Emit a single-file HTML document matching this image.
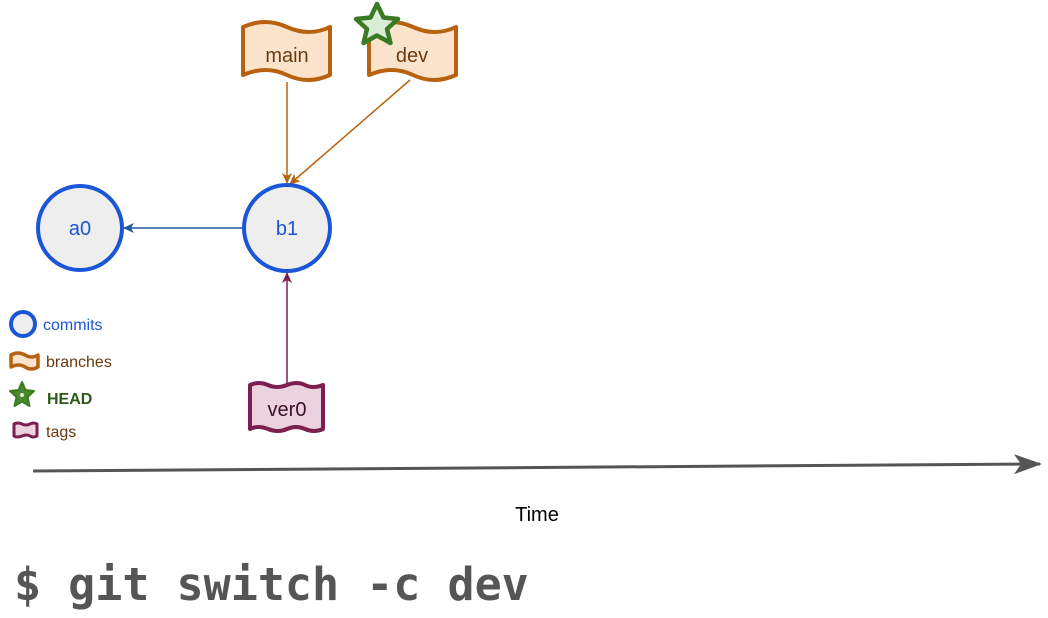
<!DOCTYPE html>
<html><head><meta charset="utf-8"><style>
html,body{margin:0;padding:0;background:#fff;}
svg{display:block;font-family:"Liberation Sans",Arial,sans-serif;}
</style></head><body>
<svg width="1048" height="618" viewBox="0 0 1048 618" xmlns="http://www.w3.org/2000/svg">
<defs>
<marker id="ao" markerWidth="12" markerHeight="12" refX="10" refY="6" orient="auto" markerUnits="userSpaceOnUse"><path d="M0,1 L11,6 L0,11 L3,6 Z" fill="#b8610f"/></marker>
<marker id="ab" markerWidth="12" markerHeight="12" refX="10" refY="6" orient="auto" markerUnits="userSpaceOnUse"><path d="M0,1 L11,6 L0,11 L3,6 Z" fill="#1f5a9e"/></marker>
<marker id="ap" markerWidth="12" markerHeight="12" refX="10" refY="6" orient="auto" markerUnits="userSpaceOnUse"><path d="M0,1 L11,6 L0,11 L3,6 Z" fill="#7a1f4f"/></marker>
<marker id="ag" markerWidth="30" markerHeight="24" refX="26" refY="12" orient="auto" markerUnits="userSpaceOnUse"><path d="M0,2 L28,12 L0,22 L7,12 Z" fill="#555"/></marker>
</defs>
<line x1="287" y1="82" x2="287" y2="183" stroke="#b8610f" stroke-width="1.5" marker-end="url(#ao)"/>
<line x1="410" y1="80" x2="290" y2="184" stroke="#b8610f" stroke-width="1.5" marker-end="url(#ao)"/>
<line x1="243" y1="228" x2="124" y2="228" stroke="#1f5a9e" stroke-width="1.5" marker-end="url(#ab)"/>
<line x1="287" y1="384" x2="287" y2="273" stroke="#7a1f4f" stroke-width="1.5" marker-end="url(#ap)"/>
<path d="M243,27 Q265,17 287,27 T330,27 V75 Q308,85 287,75 T243,75 Z" fill="#fce4cc" stroke="#b8610f" stroke-width="4" stroke-linejoin="round"/>
<text x="287" y="62" font-size="20" fill="#6b3a10" text-anchor="middle">main</text>
<path d="M369,27 Q391,17 413,27 T456,27 V75 Q434,85 413,75 T369,75 Z" fill="#fce4cc" stroke="#b8610f" stroke-width="4" stroke-linejoin="round"/>
<text x="412" y="62" font-size="20" fill="#6b3a10" text-anchor="middle">dev</text>
<path d="M377,4 L383.5,17.5 L398,19 L387,29 L390.5,43 L377,35.5 L363.5,43 L367,29 L356,19 L370.5,17.5 Z" fill="#d8ecd6" stroke="#3a7a22" stroke-width="4.5" stroke-linejoin="round"/>
<circle cx="80" cy="228" r="42" fill="#eeeeee" stroke="#1a56d6" stroke-width="4"/>
<text x="80" y="235" font-size="20" fill="#1a56d6" text-anchor="middle">a0</text>
<circle cx="287" cy="228" r="43" fill="#eeeeee" stroke="#1a56d6" stroke-width="4"/>
<text x="287" y="235" font-size="20" fill="#1a56d6" text-anchor="middle">b1</text>
<path d="M250,385 Q259,381 268,385 T287,385 T305,385 T323,385 V429 Q314,433 305,429 T287,429 T268,429 T250,429 Z" fill="#ecd1df" stroke="#7a1f4f" stroke-width="4" stroke-linejoin="round"/>
<text x="287" y="416" font-size="20" fill="#3a1028" text-anchor="middle">ver0</text>
<circle cx="23" cy="324" r="12" fill="#eeeeee" stroke="#1a56d6" stroke-width="4"/>
<text x="43" y="330" font-size="16" fill="#1a56d6">commits</text>
<path d="M11,355 Q18,351 25,355 T38,355 V367 Q31,371 25,367 T11,367 Z" fill="#fce4cc" stroke="#b8610f" stroke-width="3.5" stroke-linejoin="round"/>
<text x="46" y="367" font-size="16" fill="#6b3a10">branches</text>
<path d="M22,382 L25.5,390 L34,391 L27.5,397 L29.5,406 L22,401.5 L14.5,406 L16.5,397 L10,391 L18.5,390 Z" fill="#4a8a2e" stroke="#3a7a22" stroke-width="2" stroke-linejoin="round"/>
<circle cx="22" cy="395" r="2" fill="#d8ecd6"/>
<text x="47" y="404" font-size="16" font-weight="bold" fill="#2d5a1a">HEAD</text>
<path d="M14,424 Q18,422 22,424 T30,424 T37,424 V436 Q33,438 30,436 T22,436 T14,436 Z" fill="#ecd1df" stroke="#7a1f4f" stroke-width="3" stroke-linejoin="round"/>
<text x="46" y="437" font-size="16" fill="#6b3a10">tags</text>
<line x1="33" y1="471" x2="1040" y2="464" stroke="#555" stroke-width="3" marker-end="url(#ag)"/>
<text x="537" y="521" font-size="20" fill="#000" text-anchor="middle">Time</text>
<text x="14" y="600" font-size="45" fill="#555" font-family="'DejaVu Sans Mono',monospace" font-weight="bold">$ git switch -c dev</text>
</svg>
</body></html>
